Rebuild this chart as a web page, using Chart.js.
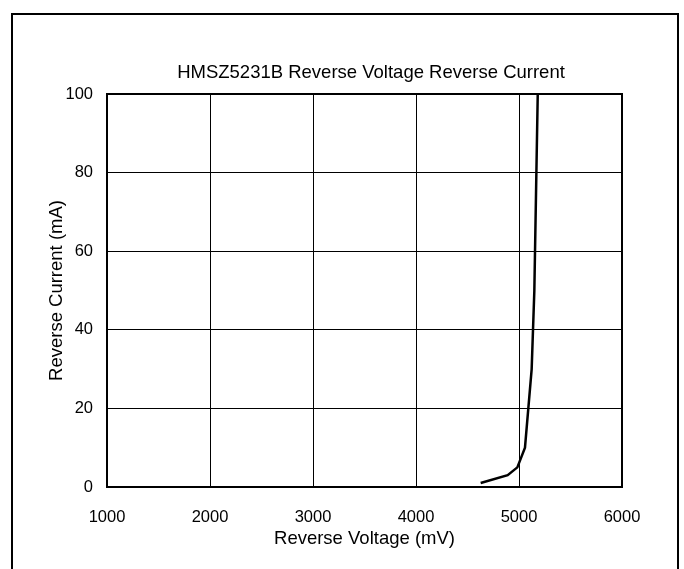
<!DOCTYPE html>
<html>
<head>
<meta charset="utf-8">
<script src="https://cdn.jsdelivr.net/npm/chart.js@4/dist/chart.umd.min.js"></script>
<style>
  html, body { margin: 0; padding: 0; background: #fff; }
  #wrap { position: relative; width: 684px; height: 569px; }
</style>
</head>
<body>
<div id="wrap"><canvas id="c" width="684" height="569"></canvas></div>
<script>
const chartTitle = 'HMSZ5231B Reverse Voltage Reverse Current';
const xAxisTitle = 'Reverse Voltage (mV)';
const yAxisTitle = 'Reverse Current (mA)';
const voltage = [4628, 4890, 4984, 5058, 5123, 5149, 5182];
const current = [1, 3, 5, 10, 30, 50, 100];
const xTickValues = [1000, 2000, 3000, 4000, 5000, 6000];
const yTickValues = [0, 20, 40, 60, 80, 100];

const FONT = "'Liberation Sans', Arial, sans-serif";

const frame = {
  id: 'frame',
  afterDraw(chart) {
    const ctx = chart.ctx;
    const a = chart.chartArea;
    ctx.save();
    ctx.strokeStyle = '#000';
    // outer frame (open at bottom)
    ctx.lineWidth = 2;
    ctx.beginPath();
    ctx.moveTo(12, 569);
    ctx.lineTo(12, 14);
    ctx.lineTo(678, 14);
    ctx.lineTo(678, 569);
    ctx.stroke();
    // plot area border
    ctx.lineWidth = 2;
    ctx.strokeRect(a.left, a.top, a.right - a.left, a.bottom - a.top);
    // chart title
    ctx.fillStyle = '#000';
    ctx.font = "18.5px " + FONT;
    ctx.textAlign = 'center';
    ctx.textBaseline = 'middle';
    ctx.fillText(chartTitle, 371, 73);
    ctx.restore();
  }
};

Chart.defaults.font.family = FONT;
Chart.defaults.color = '#000';

new Chart(document.getElementById('c'), {
  type: 'line',
  data: {
    datasets: [{
      data: voltage.map((v, i) => ({ x: v, y: current[i] })),
      borderColor: '#000',
      borderWidth: 2.5,
      pointRadius: 0,
      tension: 0,
      fill: false
    }]
  },
  options: {
    responsive: false,
    animation: false,
    layout: { padding: { left: 0, right: 62, top: 94, bottom: 0 } },
    plugins: {
      legend: { display: false },
      tooltip: { enabled: false },
      title: { display: false }
    },
    scales: {
      x: {
        type: 'linear',
        min: 1000, max: 6000,
        afterBuildTicks: s => { s.ticks = xTickValues.map(v => ({ value: v })); },
        afterFit: s => { s.height = 82; },
        ticks: {
          callback: v => String(v),
          font: { size: 16.5, family: FONT },
          color: '#000',
          padding: 20.5,
          maxRotation: 0
        },
        grid: { color: '#000', lineWidth: 1, drawTicks: false },
        border: { color: '#000', width: 1 },
        title: {
          display: true,
          text: xAxisTitle,
          color: '#000',
          font: { size: 18.5, family: FONT },
          padding: { top: 0, bottom: 19 }
        }
      },
      y: {
        min: 0, max: 100,
        afterBuildTicks: s => { s.ticks = yTickValues.map(v => ({ value: v })); },
        afterFit: s => { s.width = 107; },
        ticks: {
          callback: v => String(v),
          font: { size: 16.5, family: FONT },
          color: '#000',
          padding: 14
        },
        grid: { color: '#000', lineWidth: 1, drawTicks: false },
        border: { color: '#000', width: 1 },
        title: {
          display: true,
          text: yAxisTitle,
          color: '#000',
          font: { size: 18.5, family: FONT },
          padding: { top: 46, bottom: 0 }
        }
      }
    }
  },
  plugins: [frame]
});
</script>
</body>
</html>
